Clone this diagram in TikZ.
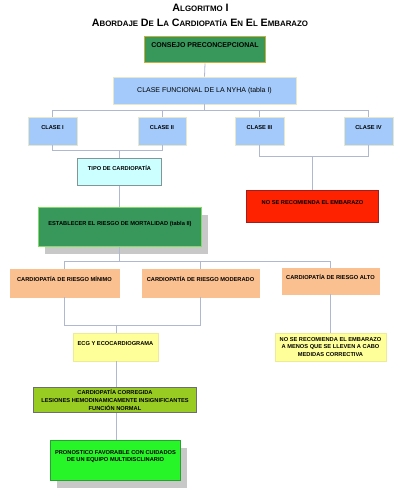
\documentclass[tikz,border=0pt]{standalone}
\usepackage{fontspec}
\setmainfont{Liberation Sans}
\usetikzlibrary{shadows}
\definecolor{cgreen}{RGB}{56,152,92}
\definecolor{cgold}{RGB}{200,176,60}
\definecolor{cltgreen}{RGB}{130,220,100}
\definecolor{cblue}{RGB}{163,202,250}
\definecolor{cpale}{RGB}{232,232,200}
\definecolor{ccyan}{RGB}{204,255,255}
\definecolor{cgrayb}{RGB}{130,150,150}
\definecolor{cred}{RGB}{255,34,0}
\definecolor{cdred}{RGB}{160,30,30}
\definecolor{cpeach}{RGB}{250,192,144}
\definecolor{cyel}{RGB}{255,255,153}
\definecolor{cyelb}{RGB}{236,236,150}
\definecolor{colive}{RGB}{153,204,34}
\definecolor{cdgray}{RGB}{110,110,110}
\definecolor{cbright}{RGB}{40,245,40}
\definecolor{cbrightb}{RGB}{40,160,50}
\definecolor{cline}{RGB}{176,184,208}
\definecolor{cshadow}{RGB}{200,200,200}
\newcommand\mysc[2]{{\fontsize{10.7}{12}\selectfont #1}{\fontsize{7.9}{12}\selectfont #2}}
\begin{document}
\begin{tikzpicture}[x=1pt,y=-1pt,
  box/.style={draw, rectangle, inner sep=0pt, align=center, text=black,
    font=\fontsize{5.7}{7.6}\selectfont\bfseries},
  up/.style={text height=4.1pt, text depth=8pt},
  bigup/.style={text height=5pt, text depth=8pt},
  thin/.style={line width=0.6pt},
  thick/.style={line width=1.6pt},
  myshadow/.style={drop shadow={shadow xshift=6pt, shadow yshift=-7pt, fill=cshadow, opacity=1}},
  conn/.style={draw=cline, line width=0.8pt}]
\path[use as bounding box, fill=white] (0,0) rectangle (401,500);

% title
\node[font=\bfseries, inner sep=0pt] (t1) at (200.5,7.5) {\mysc{A}{LGORITMO} \mysc{I}{}};
\node[font=\bfseries, inner sep=0pt] (t2) at (200,23) {\mysc{A}{BORDAJE} \mysc{D}{E} \mysc{L}{A} \mysc{C}{ARDIOPATÍA} \mysc{E}{N} \mysc{E}{L} \mysc{E}{MBARAZO}};

% boxes
\node[box, bigup, fill=cgreen, draw=cgold, thick, minimum width=121pt, minimum height=26pt, font=\fontsize{7}{8}\selectfont\bfseries] (consejo) at (205,49.5) {CONSEJO PRECONCEPCIONAL};
\node[box, fill=cblue, draw=cpale, thin, minimum width=183pt, minimum height=27pt, font=\fontsize{7}{8}\selectfont] (nyha) at (204.5,90.5) {CLASE FUNCIONAL DE LA NYHA (tabla I)};

\node[box, up, fill=cblue, draw=cpale, thin, minimum width=49pt, minimum height=28pt] (c1) at (52.5,131) {CLASE I};
\node[box, up, fill=cblue, draw=cpale, thin, minimum width=48pt, minimum height=28pt] (c2) at (162,131) {CLASE II};
\node[box, up, fill=cblue, draw=cpale, thin, minimum width=49pt, minimum height=28pt] (c3) at (259.5,131) {CLASE III};
\node[box, up, fill=cblue, draw=cpale, thin, minimum width=49pt, minimum height=28pt] (c4) at (368.5,131) {CLASE IV};

\node[box, up, fill=ccyan, draw=cgrayb, thick, minimum width=84pt, minimum height=27pt] (tipo) at (119.5,172) {TIPO DE CARDIOPATÍA};
\node[box, up, fill=cgreen, draw=cltgreen, thick, myshadow, minimum width=163pt, minimum height=39pt] (estab) at (120,227) {ESTABLECER EL RIESGO DE MORTALIDAD (tabla II)};
\node[box, up, fill=cred, draw=cdred, thick, minimum width=132pt, minimum height=32pt] (nose) at (312.5,206.5) {NO SE RECOMIENDA EL EMBARAZO};

\node[box, up, fill=cpeach, draw=cpeach, thin, minimum width=109pt, minimum height=28pt] (rmin) at (64.5,283) {CARDIOPATÍA DE RIESGO MÍNIMO};
\node[box, up, fill=cpeach, draw=cpeach, thin, minimum width=117pt, minimum height=28pt] (rmod) at (200.5,283) {CARDIOPATÍA DE RIESGO MODERADO};
\node[box, up, fill=cpeach, draw=cpeach, thin, minimum width=97pt, minimum height=26pt] (ralto) at (330.5,281) {CARDIOPATÍA DE RIESGO ALTO};

\node[box, up, fill=cyel, draw=cyelb, thin, minimum width=85pt, minimum height=28pt] (ecg) at (115.5,347) {ECG Y ECOCARDIOGRAMA};
\node[box, fill=cyel, draw=cyelb, thin, minimum width=111pt, minimum height=28pt] (nose2) at (330.5,347) {NO SE RECOMIENDA EL EMBARAZO\\A MENOS QUE SE LLEVEN A CABO\\MEDIDAS CORRECTIVA};

\node[box, fill=colive, draw=cdgray, thick, minimum width=163pt, minimum height=25pt] (corr) at (115,400) {CARDIOPATÍA CORREGIDA\\LESIONES HEMODINAMICAMENTE INSIGNIFICANTES\\FUNCIÓN NORMAL};
\node[box, fill=cbright, draw=cbrightb, thick, myshadow, minimum width=130pt, minimum height=40pt, text depth=9pt] (prono) at (115.5,460.5) {PRONOSTICO FAVORABLE CON CUIDADOS\\DE UN EQUIPO MULTIDISCLINARIO};

% bus coordinates
\coordinate (b1) at (204.5,110);
\coordinate (b2) at (119,150);
\coordinate (b3) at (312,156);
\coordinate (b4) at (119,261);
\coordinate (b5) at (116,325);

% connectors
\path[conn] (consejo.south) -- (nyha.north);
\path[conn] (nyha.south) -- (b1);
\path[conn] (c1.north) -- (c1.north |- b1) -- (c4.north |- b1) -- (c4.north);
\path[conn] (c2.north) -- (c2.north |- b1);
\path[conn] (c3.north) -- (c3.north |- b1);

\path[conn] (c1.south) -- (c1.south |- b2) -- (c2.south |- b2) -- (c2.south);
\path[conn] (b2) -- (tipo.north -| b2);
\path[conn] (c3.south) -- (c3.south |- b3) -- (c4.south |- b3) -- (c4.south);
\path[conn] (b3) -- (nose.north -| b3);

\path[conn] (tipo.south -| b2) -- (estab.north -| b2);
\path[conn] (estab.south -| b4) -- (b4);
\path[conn] (rmin.north) -- (rmin.north |- b4) -- (ralto.north |- b4) -- (ralto.north);
\path[conn] (rmod.north) -- (rmod.north |- b4);

\path[conn] (rmin.south) -- (rmin.south |- b5) -- (rmod.south |- b5) -- (rmod.south);
\path[conn] (b5) -- (ecg.north -| b5);
\path[conn] (ralto.south) -- (nose2.north);
\path[conn] (ecg.south -| b5) -- (corr.north -| b5);
\path[conn] (corr.south -| b5) -- (prono.north -| b5);
\end{tikzpicture}
\end{document}
